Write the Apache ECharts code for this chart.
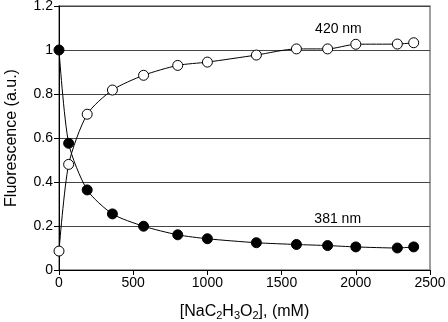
<!DOCTYPE html>
<html>
<head>
<meta charset="utf-8">
<script src="https://cdn.jsdelivr.net/npm/echarts@6/dist/echarts.min.js"></script>
<style>html,body{margin:0;padding:0;background:#fff}#c{width:448px;height:322px}</style>
</head>
<body>
<div id="c"></div>
<script>
var concentrations = [0, 65, 190, 360, 570, 800, 1000, 1330, 1600, 1810, 2000, 2280, 2390];
var fluor420 = [0.086, 0.48, 0.708, 0.818, 0.885, 0.93, 0.945, 0.977, 1.005, 1.005, 1.026, 1.027, 1.033];
var fluor381 = [1.0, 0.576, 0.364, 0.255, 0.199, 0.16, 0.142, 0.124, 0.116, 0.111, 0.105, 0.100, 0.105];
var seriesLabels = ['420 nm', '381 nm'];
var labelPositions = [[1883, 1.094], [1878, 0.232]];
var xTicks = [0, 500, 1000, 1500, 2000, 2500];
var yTicks = [0, 0.2, 0.4, 0.6, 0.8, 1, 1.2];

function pairs(xs, ys) { return xs.map(function (x, i) { return [x, ys[i]]; }); }

var font = 'Liberation Sans, Arial, sans-serif';
var chart = echarts.init(document.getElementById('c'), null, {renderer: 'canvas'});
chart.setOption({
  animation: false,
  grid: {left: 59, right: 18, top: 6, bottom: 52, show: true, borderColor: '#808080', borderWidth: 1.5,
    containLabel: false, outerBoundsMode: 'none'},
  xAxis: {
    type: 'value', min: xTicks[0], max: xTicks[xTicks.length - 1], interval: 500,
    axisLine: {lineStyle: {color: '#000', width: 1}},
    axisTick: {show: true, inside: false, length: 5, lineStyle: {color: '#000'}},
    axisLabel: {color: '#000', fontSize: 14, fontFamily: font, margin: 6,
      formatter: function (v) { return String(v); }},
    splitLine: {show: false},
    name: '[NaC{sub|2}H{sub|3}O{sub|2}], (mM)',
    nameLocation: 'middle', nameGap: 32,
    nameTextStyle: {color: '#000', fontSize: 16, fontFamily: font,
      rich: {sub: {fontSize: 11, fontFamily: font, color: '#000', verticalAlign: 'bottom', padding: [8, 0, 0, 0]}}}
  },
  yAxis: {
    type: 'value', min: yTicks[0], max: yTicks[yTicks.length - 1], interval: 0.2,
    axisLine: {show: true, lineStyle: {color: '#000', width: 1}},
    axisTick: {show: true, inside: false, length: 5, lineStyle: {color: '#000'}},
    axisLabel: {color: '#000', fontSize: 14, fontFamily: font, margin: 6,
      formatter: function (v) { return String(Math.round(v * 10) / 10); }},
    splitLine: {show: true, lineStyle: {color: '#444', width: 1}},
    name: 'Fluorescence (a.u.)', nameLocation: 'middle', nameGap: 39,
    nameTextStyle: {color: '#000', fontSize: 16, fontFamily: font}
  },
  series: [
    {
      type: 'line', name: seriesLabels[0], data: pairs(concentrations, fluor420),
      smooth: 0.25, symbol: 'circle', symbolSize: 10,
      lineStyle: {color: '#000', width: 1},
      itemStyle: {color: '#fff', borderColor: '#000', borderWidth: 1},
      markPoint: {symbol: 'circle', symbolSize: 0, silent: true,
        data: [{coord: labelPositions[0], label: {show: true, formatter: seriesLabels[0], position: 'inside', color: '#000', fontSize: 14, fontFamily: font}}]}
    },
    {
      type: 'line', name: seriesLabels[1], data: pairs(concentrations, fluor381),
      smooth: 0.25, symbol: 'circle', symbolSize: 10,
      lineStyle: {color: '#000', width: 1},
      itemStyle: {color: '#000', borderColor: '#000', borderWidth: 1},
      markPoint: {symbol: 'circle', symbolSize: 0, silent: true,
        data: [{coord: labelPositions[1], label: {show: true, formatter: seriesLabels[1], position: 'inside', color: '#000', fontSize: 14, fontFamily: font}}]}
    }
  ]
});
</script>
</body>
</html>
